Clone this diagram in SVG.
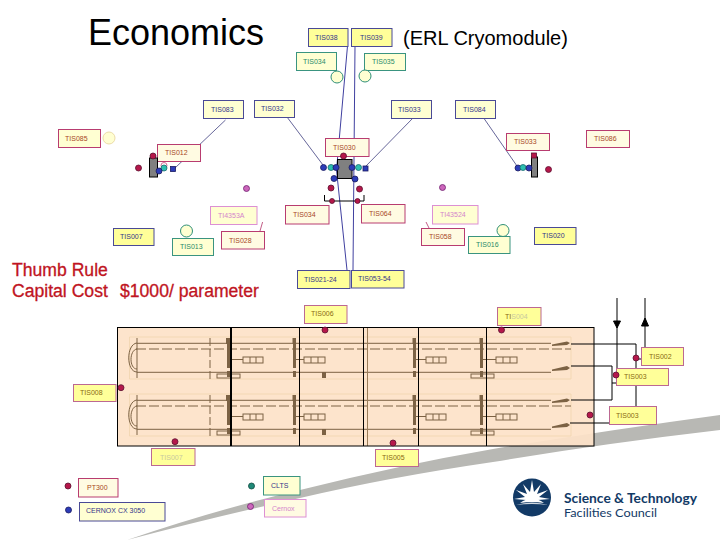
<svg xmlns="http://www.w3.org/2000/svg" width="720" height="540" viewBox="0 0 720 540">
<style>
text{font-family:"Liberation Sans",Arial,sans-serif}
.lb{font-size:7px}
rect.box{stroke-width:1}
.navy{stroke:#4a4a96}.green{stroke:#3a9480}.crim{stroke:#b83c70}.pink{stroke:#dc90d4}.mauve{stroke:#bc6892}
.fy{fill:#ffff99}.fp{fill:#ffffd2}.fc{fill:#fffbe2}
.tn{fill:#34348a}.tg{fill:#2a8a6a}.tc{fill:#a8481e}.tp{fill:#d484cc}.ty{fill:#8a6a10}.tq{fill:#c8c8a0}
.red{fill:#b5174a;stroke:#5a1030;stroke-width:.8}
.blue{fill:#2c3cb8;stroke:#1a1a60;stroke-width:.8}
.teal{fill:#2cc0b0;stroke:#1a6a70;stroke-width:.8}
.vio{fill:#cc66bb;stroke:#702070;stroke-width:.8}
.dgreen{fill:#1f8a78;stroke:#104a40;stroke-width:.8}
.ring{fill:#ffffd2;stroke:#2f8f78;stroke-width:1}
.br{stroke:#7c6244;stroke-width:1;fill:none}
.thin{stroke:#3f3f7f;stroke-width:.8;fill:none}
.nav{stroke:#4040a0;stroke-width:1;fill:none}
.bk{stroke:#000;stroke-width:1;fill:none}
.gr{fill:#808080;stroke:#000;stroke-width:1}
</style>
<defs>
<g id="row">
<path d="M129.500 337H571V379H129.500Z" fill="none" stroke="#f0d4ae" stroke-width=".8"/>
<path class="br" d="M137 343.300H551M137 372.300H551M137 338V378"/>
<path class="br" stroke-dasharray="10 3" d="M136 349H571"/>
<path class="br" d="M137 343C126 344 126 372 137 372M137 349C129 350 129 369 137 369" stroke-width=".7"/>
<path class="br" stroke-dasharray="8 3" d="M210 338V379"/>
<g fill="#7c6244">
<rect x="226" y="338" width="4" height="6"/><rect x="227" y="344" width="3" height="24"/><rect x="227" y="371" width="3" height="6"/>
<rect x="292.500" y="338" width="3.500" height="6"/><rect x="293" y="344" width="3" height="24"/><rect x="293" y="371" width="3" height="6"/>
<rect x="412.500" y="338" width="3.500" height="6"/><rect x="413" y="344" width="3" height="24"/><rect x="413" y="371" width="3" height="6"/>
<rect x="479.500" y="338" width="3.500" height="6"/><rect x="480" y="344" width="3" height="24"/><rect x="480" y="371" width="3" height="6"/>
<rect x="322" y="372" width="4" height="6"/>
<path d="M567 341.500L570 343L567 345L552 346V344.500Z"/>
<path d="M567 366L570 368L567 370L552 371V369.500Z"/>
</g>
<g class="br" stroke-width=".8">
<path d="M230 359.500H243M296 359.500H304M416 359.500H426M483 359.500H496"/>
<rect x="243" y="357" width="20" height="6"/><path d="M250 357V363M256 357V363"/>
<rect x="304" y="357" width="21" height="6"/><path d="M311 357V363M318 357V363"/>
<rect x="426" y="357" width="20" height="6"/><path d="M433 357V363M439 357V363"/>
<rect x="496" y="357" width="21" height="6"/><path d="M503 357V363M510 357V363"/>
</g>
</g>
<g id="base"><rect x="217" y="374" width="23" height="4" fill="none" stroke="#7c6244"/></g>
</defs>
<rect width="720" height="540" fill="#fff"/>

<path id="swoosh" d="M127 540Q215 510 300 490Q400 465 493 449Q610 430 720 415V430Q600 444 493 462Q390 477 300 498Q210 518 127 540Z" fill="#b8b8b4"/>

<text x="88" y="45" font-size="36" fill="#000">Economics</text>
<text x="403" y="45" font-size="20" fill="#000">(ERL Cryomodule)</text>
<text font-size="17.600" fill="#c01422" stroke="#c01422" stroke-width=".3"><tspan x="12" y="276">Thumb Rule</tspan><tspan x="12" y="297">Capital Cost</tspan><tspan x="120" y="297">$1000/ parameter</tspan></text>

<g id="plate">
<rect x="117.500" y="327.500" width="476.500" height="118.500" fill="#fde2c8" fill-opacity=".93"/>
<use href="#row"/><use href="#row" y="57"/>
<use href="#base"/><use href="#base" y="57"/><use href="#base" x="254"/><use href="#base" x="254" y="57"/>
<path d="M367.500 327.500V446" stroke="#9a7c58" stroke-width="1" fill="none"/>
<rect x="117.500" y="327.500" width="476.500" height="118.500" fill="none" stroke="#000" stroke-width="1"/>
<path d="M231 327.500V446" stroke="#000" stroke-width="2" fill="none"/>
<path d="M299.500 327.500V446M363.500 327.500V446M418.500 327.500V446M486.500 327.500V446" stroke="#000" stroke-width="1" fill="none"/>
</g>

<g id="connectors">
<path class="nav" d="M347.500 46L336.500 170L347 270"/>
<path class="nav" d="M355 46L353 270"/>
<path class="thin" d="M225.500 120L175 168"/>
<path class="thin" d="M287 117L323 165"/>
<path class="thin" d="M413 118L366 166"/>
<path class="thin" d="M483 117L517 166"/>
<path d="M262.600 222L260 231M426 222L429 228" stroke="#b23468" stroke-width=".8" fill="none"/>
<path class="bk" d="M571 344H636V423H570"/>
<path class="bk" d="M571 366H612V400H571"/>
<path class="bk" d="M617 298V383H612"/>
<path class="bk" d="M645 298V359H636"/>
<path d="M613.500 321H620.500L617 328Z" fill="#000" stroke="#000"/>
<path d="M641.500 326H648.500L645 318Z" fill="#000" stroke="#000"/>
<path d="M324.500 195V201H364V195" stroke="#000" stroke-width="1" fill="none"/>
</g>

<g id="n1"><rect class="box navy fy" x="308.500" y="28.500" width="39.500" height="18"/><text class="lb tn" x="315" y="40">TIS038</text></g>
<g id="n2"><rect class="box navy fy" x="351.500" y="28.500" width="40.500" height="18"/><text class="lb tn" x="360" y="40">TIS039</text></g>
<g id="n3"><rect class="box green fp" x="296.500" y="52.500" width="40" height="18"/><text class="lb tg" x="303" y="64">TIS034</text></g>
<g id="n4"><rect class="box green fp" x="364.500" y="53.500" width="41" height="17"/><text class="lb tg" x="372" y="64">TIS035</text></g>
<g id="n5"><rect class="box navy fp" x="203.500" y="100.500" width="40" height="18"/><text class="lb tn" x="211" y="112">TIS083</text></g>
<g id="n6"><rect class="box navy fp" x="254.500" y="100.500" width="40" height="17"/><text class="lb tn" x="261" y="111">TIS032</text></g>
<g id="n7"><rect class="box navy fp" x="391.500" y="100.500" width="40" height="18"/><text class="lb tn" x="398" y="112">TIS033</text></g>
<g id="n8"><rect class="box navy fp" x="455.500" y="100.500" width="40" height="18"/><text class="lb tn" x="463" y="112">TIS084</text></g>
<g id="n9"><rect class="box crim fp" x="58.500" y="129.500" width="42" height="18"/><text class="lb tc" x="65" y="141">TIS085</text></g>
<g id="n10"><rect class="box crim fc" x="157.500" y="144.500" width="43" height="17"/><text class="lb tc" x="165" y="155">TIS012</text></g>
<g id="n11"><rect class="box crim fc" x="325.500" y="138.500" width="43.500" height="18"/><text class="lb tc" x="333" y="150">TIS030</text></g>
<g id="n12"><rect class="box crim fc" x="506.500" y="133.500" width="43" height="17"/><text class="lb tc" x="514" y="144">TIS033</text></g>
<g id="n13"><rect class="box crim fc" x="586.500" y="130.500" width="43" height="17"/><text class="lb tc" x="594" y="141">TIS086</text></g>
<g id="n14"><rect class="box pink fp" x="210.500" y="206.500" width="46.500" height="18"/><text class="lb tp" x="218" y="218">TI4353A</text></g>
<g id="n15"><rect class="box crim fc" x="285.500" y="205.500" width="43.500" height="18.500"/><text class="lb tc" x="293" y="216.500">TIS034</text></g>
<g id="n16"><rect class="box crim fc" x="361.500" y="204.500" width="43.500" height="18.500"/><text class="lb tc" x="369" y="216">TIS064</text></g>
<g id="n17"><rect class="box pink fp" x="432.500" y="205.500" width="45.500" height="18.500"/><text class="lb tp" x="440" y="217">TI43524</text></g>
<g id="n18"><rect class="box navy fy" x="113.500" y="228.500" width="40.500" height="17"/><text class="lb tn" x="120" y="239">TIS007</text></g>
<g id="n19"><rect class="box green fp" x="172.500" y="238.500" width="41" height="17"/><text class="lb tg" x="180" y="249">TIS013</text></g>
<g id="n20"><rect class="box crim fc" x="221.500" y="231.500" width="43" height="17.500"/><text class="lb tc" x="229" y="242.500">TIS028</text></g>
<g id="n21"><rect class="box crim fc" x="421.500" y="228.500" width="43" height="17"/><text class="lb tc" x="429" y="239">TIS058</text></g>
<g id="n22"><rect class="box green fp" x="468.500" y="236.500" width="41.500" height="17"/><text class="lb tg" x="476" y="247">TIS016</text></g>
<g id="n23"><rect class="box navy fy" x="534.500" y="227.500" width="41.500" height="17"/><text class="lb tn" x="542" y="238">TIS020</text></g>
<g id="n24"><rect class="box navy fy" x="297.500" y="270.500" width="52.500" height="18"/><text class="lb tn" x="304" y="282">TIS021-24</text></g>
<g id="n25"><rect class="box navy fy" x="351.500" y="270.500" width="52.500" height="17.500"/><text class="lb tn" x="358" y="281">TIS053-54</text></g>
<g id="n26"><rect class="box mauve fy" x="304.500" y="305.500" width="42.500" height="18"/><text class="lb ty" x="311" y="316">TIS006</text></g>
<g id="n27"><rect class="box mauve fy" x="497.500" y="307.500" width="43.500" height="18"/><text class="lb" x="505" y="318.500"><tspan class="ty">TI</tspan><tspan class="tq">S004</tspan></text></g>
<g id="n28"><rect class="box mauve fy" x="641.500" y="347.500" width="42" height="18"/><text class="lb ty" x="649" y="359">TIS002</text></g>
<g id="n29"><rect class="box mauve fy" x="616.500" y="368.500" width="52" height="17"/><text class="lb ty" x="624" y="379">TIS003</text></g>
<g id="n30"><rect class="box mauve fy" x="609.500" y="406.500" width="47" height="18"/><text class="lb ty" x="616" y="418">TIS003</text></g>
<g id="n31"><rect class="box mauve fy" x="73.500" y="384.500" width="42.500" height="17"/><text class="lb ty" x="80" y="395">TIS008</text></g>
<g id="n32"><rect class="box mauve fy" x="151.500" y="448.500" width="43.500" height="17"/><text class="lb tq" x="160" y="460">TIS007</text></g>
<g id="n33"><rect class="box mauve fy" x="375.500" y="449.500" width="43" height="17"/><text class="lb ty" x="382" y="460">TIS005</text></g>
<g id="n34"><rect class="box crim fc" x="78.500" y="478.500" width="39.500" height="18.500"/><text class="lb tc" x="87" y="489.500">PT300</text></g>
<g id="n35"><rect class="box navy fp" x="79.500" y="502.500" width="85.500" height="18.500"/><text class="lb tn" x="86" y="512.500" font-size="6.500">CERNOX CX 3050</text></g>
<g id="n36"><rect class="box green fp" x="263.500" y="476.500" width="36.500" height="18.500"/><text class="lb tn" x="271" y="488">CLTS</text></g>
<g id="n37"><rect class="box pink fc" x="264.500" y="499.500" width="41.500" height="17.500"/><text class="lb tp" x="272" y="510.500">Cernox</text></g>

<g id="hardware">
<rect class="gr" x="149.500" y="158" width="8" height="19"/>
<rect class="gr" x="337.500" y="159.500" width="14.500" height="19"/>
<rect class="gr" x="531.500" y="157" width="6" height="20"/>
<circle cx="109" cy="138" r="6" fill="#ffffd2" stroke="#ecdca8"/>
<circle class="ring" cx="337" cy="77" r="6"/>
<circle class="ring" cx="365" cy="76" r="6"/>
<circle class="ring" cx="186.500" cy="231" r="6"/>
<circle class="ring" cx="503" cy="230.500" r="6"/>
<circle cx="164" cy="165.500" r="3" fill="none" stroke="#c84878" stroke-width=".8"/>
<circle class="red" cx="153" cy="156" r="3"/>
<circle class="red" cx="138.500" cy="168" r="3"/>
<circle class="teal" cx="164" cy="168" r="3"/>
<circle class="blue" cx="159" cy="171" r="3"/>
<rect class="blue" x="170.500" y="166.500" width="5" height="5"/>
<circle class="vio" cx="246.500" cy="188.500" r="3"/>
<circle class="red" cx="343.500" cy="156" r="3"/>
<circle class="blue" cx="323.500" cy="167.500" r="3"/>
<circle class="teal" cx="331" cy="167.500" r="3"/>
<circle class="blue" cx="336" cy="167.500" r="3"/>
<circle class="blue" cx="352" cy="167.500" r="3"/>
<circle class="teal" cx="358.500" cy="167.500" r="3"/>
<rect class="blue" x="363" y="166" width="5" height="5"/>
<circle class="blue" cx="334" cy="178.500" r="3"/>
<circle class="blue" cx="355" cy="179" r="3"/>
<circle class="red" cx="331" cy="188" r="3"/>
<circle class="red" cx="359.500" cy="189" r="3"/>
<circle class="red" cx="332" cy="201" r="2.500"/>
<circle class="red" cx="357.500" cy="201" r="2.500"/>
<circle class="vio" cx="442.500" cy="187.500" r="3"/>
<rect class="red" x="531.500" y="153" width="5" height="5"/>
<circle class="blue" cx="518" cy="168" r="3"/>
<circle class="teal" cx="523" cy="167.500" r="3"/>
<circle class="blue" cx="529" cy="168" r="3"/>
<circle class="red" cx="548.500" cy="169.500" r="3"/>
<circle class="red" cx="325" cy="330" r="3"/>
<circle class="red" cx="501.500" cy="330" r="3"/>
<circle class="red" cx="121" cy="387.700" r="3"/>
<circle class="red" cx="175" cy="441.700" r="3"/>
<circle class="red" cx="393" cy="443" r="3"/>
<circle class="red" cx="590" cy="415" r="3"/>
<circle class="red" cx="616" cy="375" r="3"/>
<circle class="red" cx="636" cy="358" r="3"/>
<circle class="red" cx="68" cy="486" r="3"/>
<circle class="blue" cx="68.500" cy="510" r="3"/>
<circle class="dgreen" cx="251.500" cy="486" r="3"/>
<circle class="vio" cx="250.500" cy="506.500" r="3"/>
</g>

<g id="logo">
<circle cx="532" cy="497.500" r="19" fill="#123a66"/>
<path d="M520 503Q532 494 544 503Q532 501 520 503Z" fill="#fff"/>
<path d="M532 480L534 492L541 484L537 494L548 490L539 497L550 499L538 500H526L514 499L525 497L516 490L527 494L523 484L530 492Z" fill="#fff"/>
<path d="M516 505Q532 500 548 505Q532 503 516 505Z" fill="#fff" opacity=".8"/>
<text x="564" y="502.500" font-size="12.500" font-weight="700" fill="#123a66" textLength="133" lengthAdjust="spacingAndGlyphs" style="font-family:Lato,'Liberation Sans',sans-serif">Science &amp; Technology</text>
<text x="564" y="516.500" font-size="11.500" fill="#123a66" textLength="93" lengthAdjust="spacingAndGlyphs" style="font-family:Lato,'Liberation Sans',sans-serif">Facilities Council</text>
</g>
</svg>
